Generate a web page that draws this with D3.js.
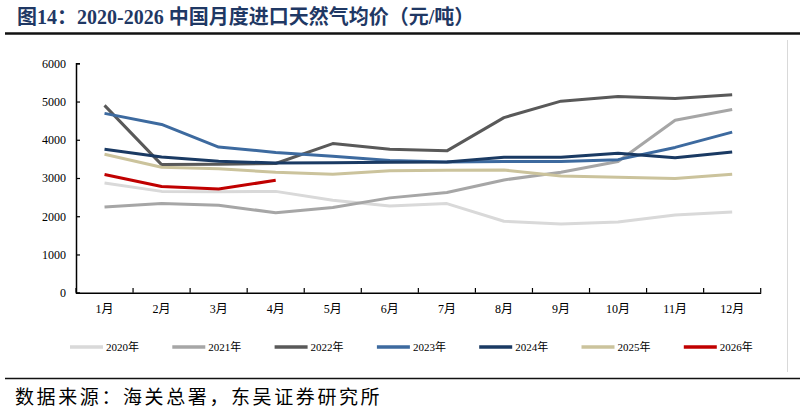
<!DOCTYPE html>
<html>
<head>
<meta charset="utf-8">
<script src="https://cdn.jsdelivr.net/npm/d3@7"></script>
<style>
  body { margin: 0; background: #fff; }
  svg { display: block; }
  text { font-family: "Liberation Serif", "Noto Sans CJK SC", serif; }
</style>
</head>
<body>
<div id="chart"></div>
<script>
const months = ["1月", "2月", "3月", "4月", "5月", "6月", "7月", "8月", "9月", "10月", "11月", "12月"];
const yTicks = [0, 1000, 2000, 3000, 4000, 5000, 6000];

const y2020 = [2870, 2650, 2640, 2650, 2420, 2270, 2330, 1870, 1800, 1850, 2030, 2110];
const y2021 = [2240, 2330, 2290, 2090, 2230, 2480, 2620, 2950, 3150, 3430, 4510, 4790];
const y2022 = [4900, 3350, 3360, 3380, 3900, 3750, 3710, 4580, 5010, 5130, 5080, 5180];
const y2023 = [4690, 4400, 3810, 3670, 3570, 3460, 3420, 3430, 3430, 3480, 3800, 4200];
const y2024 = [3750, 3550, 3440, 3390, 3400, 3410, 3420, 3540, 3540, 3650, 3530, 3680];
const y2025 = [3620, 3280, 3240, 3150, 3100, 3190, 3200, 3210, 3050, 3020, 2990, 3100];
const y2026 = [3090, 2780, 2710, 2940];

const seriesNames = ["2020年", "2021年", "2022年", "2023年", "2024年", "2025年", "2026年"];
const seriesValues = [y2020, y2021, y2022, y2023, y2024, y2025, y2026];
const colors = ["#d9d9d9", "#a6a6a6", "#595959", "#3d6a9f", "#1a3a63", "#cbc39c", "#c00000"];

const W = 805, H = 412;
const svg = d3.select("#chart").append("svg").attr("width", W).attr("height", H);

// 标题
svg.append("text")
  .attr("x", 17).attr("y", 24)
  .attr("fill", "#1f3864")
  .style("font-size", "20px").style("font-weight", "bold")
  .style("font-family", "'Liberation Serif', 'Noto Sans CJK SC', serif")
  .text("图14：2020-2026 中国月度进口天然气均价（元/吨）");

svg.append("line").attr("x1", 5).attr("x2", 800).attr("y1", 33.5).attr("y2", 33.5)
  .attr("stroke", "#111").attr("stroke-width", 2.5);

// 右侧边框
svg.append("line").attr("x1", 787.5).attr("x2", 787.5).attr("y1", 40).attr("y2", 372)
  .attr("stroke", "#d9d9d9").attr("stroke-width", 1);

const x = d3.scaleBand().domain(months).range([76, 760.7]).padding(0);
const y = d3.scaleLinear().domain([0, 6000]).range([292.7, 63.3]);

// 坐标轴
const xAxis = svg.append("g").attr("transform", "translate(0,292.7)")
  .call(d3.axisBottom(x).tickSize(0).tickPadding(12));
xAxis.select(".domain").attr("stroke", "#000").attr("stroke-width", 1.5);
xAxis.selectAll("text").style("font-size", "12px").attr("fill", "#000")
  .style("font-family", "'Liberation Serif', 'Noto Sans CJK SC', serif");

const bounds = months.map(m => x(m)).concat([x.range()[1]]);
svg.append("g").selectAll("line").data(bounds).join("line")
  .attr("x1", d => d).attr("x2", d => d)
  .attr("y1", 292.7).attr("y2", 288)
  .attr("stroke", "#000").attr("stroke-width", 1.2);

const yAxis = svg.append("g").attr("transform", "translate(76,0)")
  .call(d3.axisLeft(y).tickValues(yTicks).tickSize(-4).tickPadding(10).tickFormat(d3.format("d")));
yAxis.select(".domain").attr("stroke", "#000").attr("stroke-width", 1.5);
yAxis.selectAll(".tick line").attr("stroke", "#000").attr("stroke-width", 1.2);
yAxis.selectAll("text").style("font-size", "12px").attr("fill", "#000");

// 折线
const line = d3.line()
  .x((d, i) => x(months[i]) + x.bandwidth() / 2)
  .y(d => y(d));

svg.append("g").selectAll("path").data(seriesValues).join("path")
  .attr("fill", "none")
  .attr("stroke", (d, i) => colors[i])
  .attr("stroke-width", 3)
  .attr("stroke-linejoin", "round")
  .attr("d", line);

// 图例
const legend = svg.append("g").selectAll("g").data(seriesNames).join("g")
  .attr("transform", (d, i) => `translate(${70 + i * 102.3},347)`);
legend.append("line").attr("x1", 0).attr("x2", 33)
  .attr("stroke", (d, i) => colors[i]).attr("stroke-width", 3.5);
legend.append("text").attr("x", 36).attr("y", 4)
  .style("font-size", "11px").attr("fill", "#000").text(d => d);

// 底部来源
svg.append("line").attr("x1", 5).attr("x2", 800).attr("y1", 378.5).attr("y2", 378.5)
  .attr("stroke", "#111").attr("stroke-width", 1.5);
svg.append("text").attr("x", 15).attr("y", 404)
  .style("font-size", "19px").style("letter-spacing", "2.6px")
  .style("font-family", "'Noto Sans CJK SC', sans-serif")
  .attr("fill", "#000")
  .text("数据来源：海关总署，东吴证券研究所");
</script>
</body>
</html>
